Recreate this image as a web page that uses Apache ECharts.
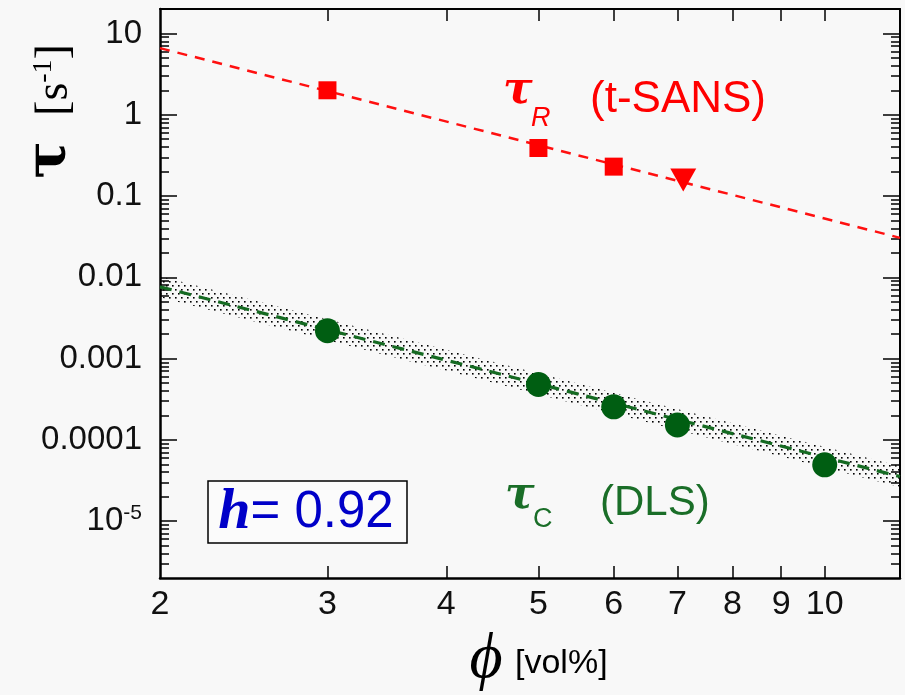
<!DOCTYPE html>
<html>
<head>
<meta charset="utf-8">
<script src="https://cdn.jsdelivr.net/npm/echarts@6/dist/echarts.min.js"></script>
<style>
html,body{margin:0;padding:0;background:#f8f8f8;}
#c{width:905px;height:695px;}
</style>
</head>
<body>
<div id="c"></div>
<script>
// ---- data ----
const xTickValues = [3, 4, 5, 6, 7, 8, 9, 10];
const xLabelValues = [2, 3, 4, 5, 6, 7, 8, 9, 10];
const yMajorValues = [1e-5, 1e-4, 1e-3, 1e-2, 1e-1, 1, 10];
const yMajorLabels = ['10^-5', '0.0001', '0.001', '0.01', '0.1', '1', '10'];
const yMinorMultipliers = [2, 3, 4, 5, 6, 7, 8, 9];

const tauR_sq_x = [3, 5, 6];
const tauR_sq_y = [2.0, 0.39, 0.23];
const tauR_tri_x = [7.1];
const tauR_tri_y = [0.158];
const tauR_fit_x = [2, 12];
const tauR_fit_y = [6.6, 0.0306];

const tauC_x = [3, 5, 6, 7, 10];
const tauC_y = [0.0022, 0.00048, 0.000255, 0.000153, 0.0000494];
const tauC_fit_x = [2, 12];
const tauC_fit_y = [0.00764, 0.0000354];
const band_x = [2, 12];
const band_upper = [0.0103, 0.0000475];
const band_lower = [0.00568, 0.0000263];

// ---- helpers ----
const yMinorValues = [];
for (let e = -6; e <= 1; e++) {
  for (const m of yMinorMultipliers) {
    const v = m * Math.pow(10, e);
    if (v > 2e-6 && v < 20) yMinorValues.push(v);
  }
}
const pairs = (xs, ys) => xs.map((x, i) => [x, ys[i]]);

const pat = document.createElement('canvas');
pat.width = 6; pat.height = 8;
const pctx = pat.getContext('2d');
pctx.fillStyle = '#000';
pctx.fillRect(1, 1, 1.6, 1.6);
pctx.fillRect(4, 5, 1.6, 1.6);

const chart = echarts.init(document.getElementById('c'), null, {renderer: 'canvas'});

const YMIN = 2e-6, YMAX = 20, XMIN = 2, XMAX = 12;
const sans = 'Liberation Sans, Arial, sans-serif';
const serif = 'Liberation Serif, Times New Roman, serif';

function yAx(pos, major, showLine, lineW) {
  return {
    type: 'log', logBase: 10, min: YMIN, max: YMAX, position: pos,
    axisLine: {show: showLine, onZero: false, lineStyle: {color: '#000', width: lineW}},
    axisTick: {show: true, inside: true, length: major ? 17 : 9,
      customValues: major ? yMajorValues : yMinorValues,
      lineStyle: {color: '#000', width: 1.5}},
    axisLabel: (pos === 'left' && major) ? {
      show: true, customValues: yMajorValues, margin: 18,
      fontSize: 33, color: '#111', fontFamily: sans,
      formatter: function (v) {
        const e = Math.round(Math.log10(v));
        const idx = yMajorValues.findIndex(t => Math.round(Math.log10(t)) === e);
        const lab = yMajorLabels[idx];
        if (lab && lab.indexOf('^') >= 0) {
          const parts = lab.split('^');
          return '{b|' + parts[0] + '}{s|' + parts[1] + '}';
        }
        return '{b|' + lab + '}';
      },
      rich: {
        b: {fontSize: 33, fontFamily: sans, color: '#111', lineHeight: 36},
        s: {fontSize: 21, fontFamily: sans, color: '#111', lineHeight: 6, verticalAlign: 'top'}
      }
    } : {show: false},
    splitLine: {show: false}
  };
}

function xAx(pos, showLabel, lineW) {
  return {
    type: 'log', logBase: 10, min: XMIN, max: XMAX, position: pos,
    axisLine: {show: true, onZero: false, lineStyle: {color: '#000', width: lineW}},
    axisTick: {show: true, inside: true, length: 12, customValues: xTickValues,
      lineStyle: {color: '#000', width: 1.5}},
    axisLabel: showLabel ? {show: true, customValues: xLabelValues, margin: 10,
      fontSize: 34, color: '#111', fontFamily: sans} : {show: false},
    splitLine: {show: false}
  };
}

const option = {
  backgroundColor: '#f8f8f8',
  animation: false,
  grid: {left: 160, right: 5, top: 9, bottom: 117, containLabel: false, outerBoundsMode: 'none'},
  xAxis: [xAx('bottom', true, 2.5), xAx('top', false, 2)],
  yAxis: [yAx('left', true, true, 2.5), yAx('left', false, false, 0),
          yAx('right', true, true, 2), yAx('right', false, false, 0)],
  series: [
    {
      type: 'custom', z: 1, xAxisIndex: 0, yAxisIndex: 0,
      data: [[band_x[0], band_upper[0]]],
      renderItem: function (params, api) {
        const pts = [];
        for (let i = 0; i < band_x.length; i++) pts.push(api.coord([band_x[i], band_upper[i]]));
        for (let i = band_x.length - 1; i >= 0; i--) pts.push(api.coord([band_x[i], band_lower[i]]));
        return {type: 'polygon', shape: {points: pts},
          style: {fill: {image: pat, repeat: 'repeat'}, stroke: null}};
      }
    },
    {
      type: 'line', z: 3, data: pairs(tauR_fit_x, tauR_fit_y), symbol: 'none',
      lineStyle: {color: '#ff1010', width: 2.5, type: [10, 8]}
    },
    {
      type: 'line', z: 3, data: pairs(tauC_fit_x, tauC_fit_y), symbol: 'none',
      lineStyle: {color: '#156a22', width: 3.2, type: [12, 8]}
    },
    {
      type: 'scatter', z: 5, data: pairs(tauR_sq_x, tauR_sq_y), symbol: 'rect', symbolSize: 18,
      itemStyle: {color: '#ff0000', opacity: 1}
    },
    {
      type: 'scatter', z: 5, data: pairs(tauR_tri_x, tauR_tri_y), symbol: 'triangle',
      symbolRotate: 180, symbolSize: [26, 23], itemStyle: {color: '#ff0000', opacity: 1}
    },
    {
      type: 'scatter', z: 5, data: pairs(tauC_x, tauC_y), symbol: 'circle', symbolSize: 25,
      itemStyle: {color: '#005e12', opacity: 1}
    }
  ],
  graphic: [
    // y-axis title
    {type: 'text', x: 50, y: 160, rotation: Math.PI / 2, z: 10,
      style: {text: 'τ', fontFamily: 'DejaVu Serif, serif', fontWeight: 'bold', fontSize: 56,
        fill: '#000', align: 'center', verticalAlign: 'middle'}},
    {type: 'text', x: 55, y: 80, rotation: Math.PI / 2, z: 10,
      style: {text: '{n|[s}{p|-1}{n|]}', align: 'center', verticalAlign: 'middle',
        rich: {
          n: {fontFamily: serif, fontSize: 46, fill: '#000', lineHeight: 50},
          p: {fontFamily: serif, fontSize: 28, fill: '#000', lineHeight: 14, verticalAlign: 'top'}
        }}},
    // x-axis title
    {type: 'text', x: 486, y: 660, z: 10,
      style: {text: 'ϕ', fontFamily: serif, fontStyle: 'italic', fontSize: 64, fill: '#000',
        align: 'center', verticalAlign: 'middle'}},
    {type: 'text', x: 515, y: 664, z: 10,
      style: {text: '[vol%]', fontFamily: sans, fontSize: 34, fill: '#000',
        align: 'left', verticalAlign: 'middle'}},
    // tau_R label
    {type: 'text', x: 503, y: 92, z: 10,
      style: {text: 'τ', fontFamily: 'DejaVu Serif, serif', fontWeight: 'bold', fontStyle: 'italic',
        fontSize: 44, fill: '#ff0000', align: 'left', verticalAlign: 'middle'}},
    {type: 'text', x: 531, y: 118, z: 10,
      style: {text: 'R', fontFamily: sans, fontStyle: 'italic', fontSize: 27, fill: '#ff0000',
        align: 'left', verticalAlign: 'middle'}},
    {type: 'text', x: 590, y: 100, z: 10,
      style: {text: '(t-SANS)', fontFamily: sans, fontSize: 44, fill: '#ff0000',
        align: 'left', verticalAlign: 'middle'}},
    // tau_C label
    {type: 'text', x: 505, y: 497, z: 10,
      style: {text: 'τ', fontFamily: 'DejaVu Serif, serif', fontWeight: 'bold', fontStyle: 'italic',
        fontSize: 44, fill: '#1a6e28', align: 'left', verticalAlign: 'middle'}},
    {type: 'text', x: 533, y: 520, z: 10,
      style: {text: 'C', fontFamily: sans, fontSize: 27, fill: '#1a6e28',
        align: 'left', verticalAlign: 'middle'}},
    {type: 'text', x: 600, y: 503, z: 10,
      style: {text: '(DLS)', fontFamily: sans, fontSize: 42, fill: '#1a6e28',
        align: 'left', verticalAlign: 'middle'}},
    // h box
    {type: 'rect', z: 10, shape: {x: 208, y: 481, width: 199, height: 62},
      style: {fill: '#fbfbfb', stroke: '#000', lineWidth: 1.5}},
    {type: 'text', x: 306, y: 513, z: 11,
      style: {text: '{h|h}{e|= 0.92}', align: 'center', verticalAlign: 'middle',
        rich: {
          h: {fontFamily: serif, fontWeight: 'bold', fontStyle: 'italic', fontSize: 58, fill: '#0000c8'},
          e: {fontFamily: sans, fontSize: 51, fill: '#0000c8'}
        }}}
  ]
};
chart.setOption(option);
</script>
</body>
</html>
